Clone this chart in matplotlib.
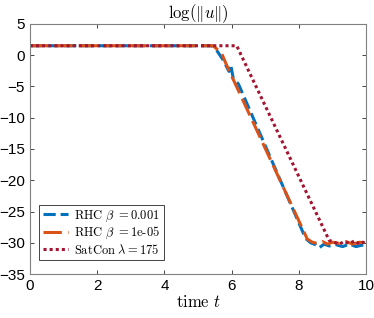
import numpy as np
import matplotlib.pyplot as plt

plt.rcParams['mathtext.fontset'] = 'cm'
plt.rcParams['font.family'] = ['Liberation Sans', 'DejaVu Sans']

# RHC beta = 0.001
t_b = [0, 5.4, 5.55, 5.75, 5.92, 5.97, 6.05, 6.2, 8.2, 8.35, 8.5, 8.6, 8.75, 8.9, 9.1, 9.3, 9.5, 9.7, 9.85, 10]
y_b = [1.5, 1.5, 0.8, -0.8, -2.6, -1.5, -3.8, -4.6, -29.3, -30.0, -30.3, -30.8, -30.2, -30.5, -30.3, -30.6, -30.2, -30.6, -30.4, -30.3]

# RHC beta = 1e-05
t_o = [0, 5.45, 5.7, 5.85, 8.25, 8.4, 8.55, 8.7, 8.85, 9.0, 9.2, 9.4, 9.6, 9.8, 10]
y_o = [1.5, 1.5, 0.3, -1.6, -29.4, -29.9, -30.1, -29.8, -30.2, -29.9, -30.1, -29.8, -30.2, -29.9, -30.1]

# SatCon lambda = 175
t_r = [0, 6.15, 8.9, 9.05, 9.2, 9.35, 9.5, 9.65, 9.8, 9.9, 10]
y_r = [1.5, 1.5, -29.6, -29.9, -30.2, -29.8, -30.1, -29.7, -30.2, -29.9, -30.1]

fig = plt.figure(figsize=(3.74, 3.18), dpi=100)
ax = fig.add_axes([0.080, 0.138, 0.899, 0.787])

ax.plot(t_b, y_b, color='#0072BD', lw=2.2, ls=(0, (4, 1.6)), label=r'$\mathrm{RHC}\ \beta\ \mathrm{=0.001}$')
ax.plot(t_o, y_o, color='#D95319', lw=2.2, ls=(0, (6, 2)), label=r'$\mathrm{RHC}\ \beta\ \mathrm{=1e\text{-}05}$')
ax.plot(t_r, y_r, color='#A2142F', lw=2.2, ls=(0, (1, 1)), label=r'$\mathrm{SatCon}\ \lambda = 175$')

ax.set_xlim(0, 10)
ax.set_ylim(-35, 5)
ax.set_xticks(range(0, 11, 2))
ax.set_yticks(range(-35, 6, 5))
ax.tick_params(direction='in', top=True, right=True, labelsize=11, length=3, width=0.6, color='#262626')
for s in ax.spines.values():
    s.set_color('#808080')
    s.set_linewidth(0.8)

ax.set_title(r'$\log(\|u\|)$', fontsize=12, pad=4)
ax.set_xlabel(r'$\mathrm{time}\ t$', fontsize=12, labelpad=1)

leg = ax.legend(loc='lower left', fontsize=9, handlelength=2.0, handletextpad=0.5,
                borderpad=0.3, labelspacing=0.1, fancybox=False, framealpha=1,
                bbox_to_anchor=(0.008, 0.03))
leg.get_frame().set_edgecolor('#262626')
leg.get_frame().set_linewidth(0.6)

fig.savefig('out.png', dpi=100)
